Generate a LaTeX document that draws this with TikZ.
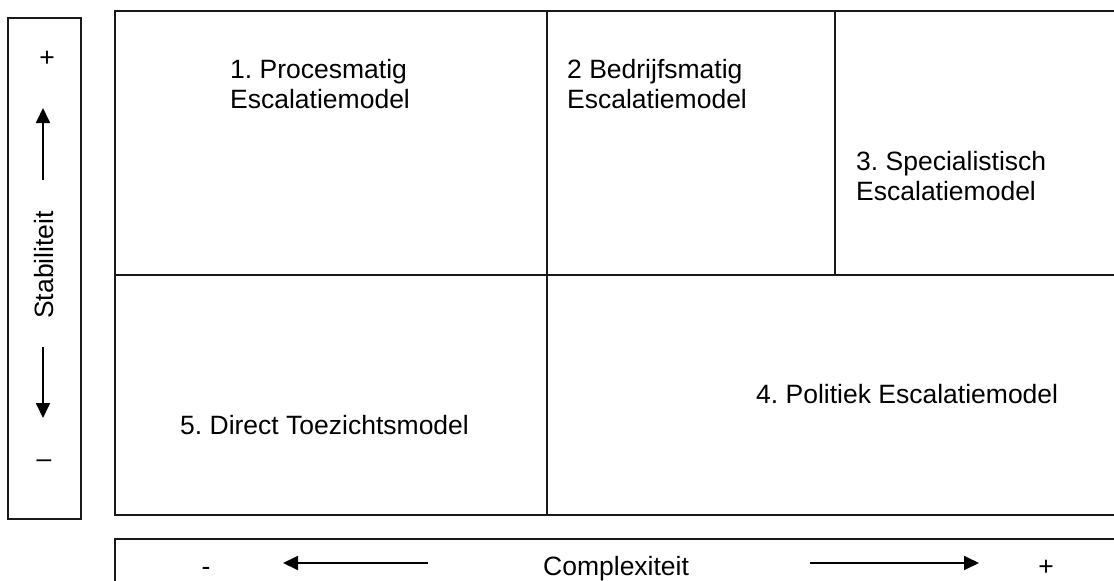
\documentclass[tikz,border=0pt]{standalone}
\usepackage{fontspec}
\setmainfont{Liberation Sans}
\usetikzlibrary{arrows.meta}
\frenchspacing
\begin{document}
\begin{tikzpicture}[x=1pt,y=-1pt,
  frameline/.style={draw=black!90, line width=2pt},
  lbl/.style={font=\fontsize{26.5}{30}\selectfont, inner sep=0pt, align=left},
  axisarrow/.style={line width=1.8pt, -{Triangle[length=15pt,width=14pt]}}]
\clip (0,0) rectangle (1114,581);
\fill[white] (0,0) rectangle (1114,581);

% stability axis box
\draw[frameline] (8,18) rectangle (81,519);
% complexity axis box
\draw[frameline] (115,539) rectangle (1120,590);
% main grid
\draw[frameline] (115,11) rectangle (1120,515);
\draw[frameline] (115,275) -- (1120,275);
\draw[frameline] (547,11) -- (547,515);
\draw[frameline] (835,11) -- (835,275);

% cell labels
\node[lbl, anchor=north west] (m1) at (230,59) {1. Procesmatig\\Escalatiemodel};
\node[lbl, anchor=north west] (m2) at (567,59) {2 Bedrijfsmatig\\Escalatiemodel};
\node[lbl, anchor=north west] (m3) at (856,151) {3. Specialistisch\\Escalatiemodel};
\node[lbl, anchor=base west] (m4) at (756,403) {4. Politiek Escalatiemodel};
\node[lbl, anchor=base west] (m5) at (180,434) {5. Direct Toezichtsmodel};

% vertical axis
\node[lbl, anchor=base] (splus) at (47,66) {+};
\node[lbl, anchor=base, rotate=90] (stab) at (53,265) {Stabiliteit};
\node[lbl, anchor=base] (smin) at (44,467) {\textendash};
\coordinate (upfrom) at (43,180);
\coordinate (upto) at (43,108);
\coordinate (dnfrom) at (43,347);
\coordinate (dnto) at (43,418);
\draw[axisarrow] (upfrom) -- (upto);
\draw[axisarrow] (dnfrom) -- (dnto);

% horizontal axis
\node[lbl, anchor=base] (cmin) at (206,575) {-};
\node[lbl, anchor=base west] (cplx) at (543,575) {Complexiteit};
\node[lbl, anchor=base] (cplus) at (1046,575) {+};
\coordinate (lfrom) at (428,563);
\coordinate (lto) at (283,563);
\coordinate (rfrom) at (810,563);
\coordinate (rto) at (979,563);
\draw[axisarrow] (lfrom) -- (lto);
\draw[axisarrow] (rfrom) -- (rto);
\end{tikzpicture}
\end{document}
